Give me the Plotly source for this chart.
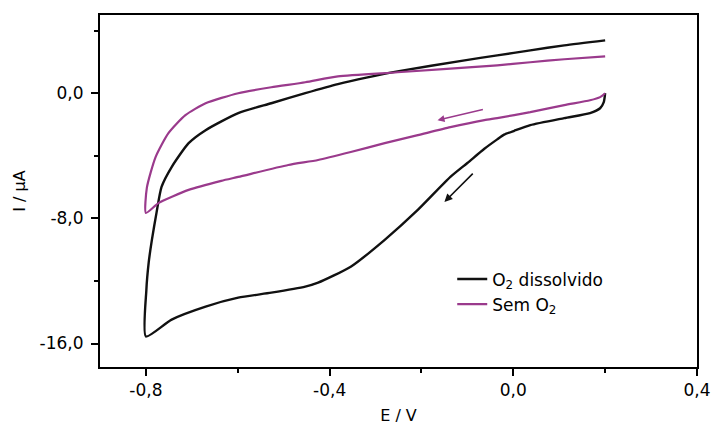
import plotly.graph_objects as go

# O2 dissolvido (black) : E / V, I / uA
o2_E = [0.200, 0.197, 0.189, 0.167, 0.111, 0.037, 0.002, -0.020, -0.035, -0.063, -0.100,
        -0.137, -0.208, -0.280, -0.354, -0.425, -0.453, -0.527, -0.599, -0.670,
        -0.744, -0.800,
        -0.799, -0.794, -0.787, -0.777, -0.766, -0.744, -0.707, -0.670, -0.599,
        -0.527, -0.453, -0.382, -0.320, -0.252, -0.106, -0.035, 0.037, 0.111, 0.200]
o2_I = [0.0, -0.57, -0.96, -1.27, -1.59, -2.04, -2.40, -2.65, -2.95, -3.55, -4.46,
        -5.35, -7.46, -9.37, -11.09, -12.11, -12.36, -12.75, -13.07, -13.64,
        -14.47, -15.55,
        -12.56, -10.83, -9.37, -7.65, -5.99, -4.72, -3.19, -2.36, -1.27,
        -0.64, 0.0, 0.58, 1.00, 1.40, 2.10, 2.42, 2.74, 3.06, 3.38]

# Sem O2 (magenta)
n2_E = [0.200, 0.111, 0.037, -0.035, -0.252, -0.382, -0.453, -0.527, -0.599, -0.670,
        -0.714, -0.751, -0.779, -0.798, -0.800,
        -0.772, -0.707, -0.636, -0.599, -0.490, -0.425, -0.354, -0.280, -0.208,
        -0.137, -0.063, -0.035, 0.037, 0.111, 0.167, 0.189, 0.200]
n2_I = [2.36, 2.17, 1.98, 1.78, 1.34, 1.08, 0.70, 0.38, 0.0, -0.64,
        -1.40, -2.55, -4.08, -6.05, -7.65,
        -7.01, -6.18, -5.60, -5.35, -4.59, -4.27, -3.76, -3.19, -2.68,
        -2.17, -1.72, -1.59, -1.21, -0.76, -0.45, -0.25, 0.0]

x_tick_vals = [-0.8, -0.4, 0.0, 0.4]
x_tick_labels = ["-0,8", "-0,4", "0,0", "0,4"]
y_tick_vals = [0.0, -8.0, -16.0]
y_tick_labels = ["0,0", "-8,0", "-16,0"]

BLACK = "#111111"
MAG = "#9a3a8c"
FONT = "DejaVu Sans"

fig = go.Figure()
fig.add_trace(go.Scatter(x=o2_E, y=o2_I, mode="lines", name="O<sub>2</sub> dissolvido",
                         line=dict(color=BLACK, width=2.4, shape="spline", smoothing=0.6)))
fig.add_trace(go.Scatter(x=n2_E, y=n2_I, mode="lines", name="Sem O<sub>2</sub>",
                         line=dict(color=MAG, width=2.2, shape="spline", smoothing=0.6)))

# scan direction arrows
fig.add_annotation(x=-0.150, y=-6.95, ax=-0.085, ay=-5.04, xref="x", yref="y",
                   axref="x", ayref="y", showarrow=True, arrowhead=2, arrowsize=1,
                   arrowwidth=1.6, arrowcolor=BLACK, text="")
fig.add_annotation(x=-0.165, y=-1.72, ax=-0.063, ay=-1.02, xref="x", yref="y",
                   axref="x", ayref="y", showarrow=True, arrowhead=2, arrowsize=1,
                   arrowwidth=1.4, arrowcolor=MAG, text="")

axis_common = dict(showline=True, linecolor="black", linewidth=2, mirror=True,
                   ticks="outside", ticklen=7, tickwidth=1.5, tickcolor="black",
                   showgrid=False, zeroline=False, automargin=False,
                   ticklabeloverflow="allow",
                   tickfont=dict(family=FONT, size=17, color="black"))

fig.update_xaxes(range=[-0.9, 0.4], tickvals=x_tick_vals, ticktext=x_tick_labels,
                 minor=dict(ticks="outside", ticklen=4, dtick=0.2, tick0=0,
                            tickcolor="black", tickwidth=1.5, showgrid=False),
                 title=dict(text="E / V", font=dict(family=FONT, size=16, color="black"),
                            standoff=10),
                 **axis_common)
fig.update_yaxes(range=[-17.5, 5.0], tickvals=y_tick_vals, ticktext=y_tick_labels,
                 minor=dict(ticks="outside", ticklen=4, dtick=4, tick0=0,
                            tickcolor="black", tickwidth=1.5, showgrid=False),
                 title=dict(text="I / μA", font=dict(family=FONT, size=16, color="black"),
                            standoff=10),
                 ticklabelstandoff=4,
                 **axis_common)

fig.update_layout(
    width=712, height=427,
    margin=dict(l=100, r=15, t=15, b=60),
    paper_bgcolor="white", plot_bgcolor="white",
    font=dict(family=FONT, color="black"),
    showlegend=True,
    legend=dict(x=0.59, y=0.30, xanchor="left", yanchor="top",
                bgcolor="rgba(0,0,0,0)", font=dict(family=FONT, size=17, color="black"),
                tracegroupgap=0, itemwidth=30),
)

fig.write_html("out.html")
